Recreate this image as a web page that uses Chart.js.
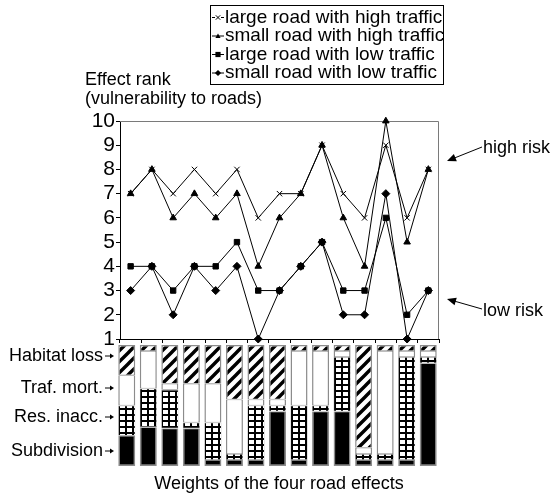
<!DOCTYPE html>
<html>
<head>
<meta charset="utf-8">
<script src="https://cdn.jsdelivr.net/npm/chart.js@4.4.1/dist/chart.umd.min.js"></script>
<style>
  html, body { margin: 0; padding: 0; background: #fff; }
  #wrap { position: relative; width: 555px; height: 496px; }
  #wrap canvas { position: absolute; left: 0; top: 0; }
</style>
</head>
<body>
<div id="wrap">
  <canvas id="lines" width="555" height="496"></canvas>
  <canvas id="bars" width="555" height="496"></canvas>
</div>
<script>
// Fifteen road-effect weighting scenarios
const categories = ['1', '2', '3', '4', '5', '6', '7', '8', '9', '10', '11', '12', '13', '14', '15'];
const rankTicks = [1, 2, 3, 4, 5, 6, 7, 8, 9, 10];

// Effect rank per scenario for each road type
const largeHighTraffic = [7, 8, 7, 8, 7, 8, 6, 7, 7, 9, 7, 6, 9, 6, 8];
const smallHighTraffic = [7, 8, 6, 7, 6, 7, 4, 6, 7, 9, 6, 4, 10, 5, 8];
const largeLowTraffic  = [4, 4, 3, 4, 4, 5, 3, 3, 4, 5, 3, 3, 6, 2, 3];
const smallLowTraffic  = [3, 4, 2, 4, 3, 4, 1, 3, 4, 5, 2, 2, 7, 1, 3];

// Weights (%) of the four road effects in each scenario
const habitatLoss  = [25, 5, 32, 32, 32, 45, 45, 45, 5, 5, 5, 85, 5, 5, 5];
const trafficMort  = [25, 31, 5, 32, 32, 45, 5, 5, 45, 45, 5, 5, 85, 5, 5];
const resInacc     = [25, 32, 32, 5, 31, 5, 45, 5, 45, 5, 45, 5, 5, 85, 5];
const subdivision  = [25, 32, 31, 31, 5, 5, 5, 45, 5, 45, 45, 5, 5, 5, 85];

const FONT = '"Liberation Sans", Arial, Helvetica, sans-serif';

// ---------- fill patterns ----------
function hatchTile() {
  const c = document.createElement('canvas');
  c.width = 11; c.height = 11;
  const g = c.getContext('2d');
  g.fillStyle = '#fff'; g.fillRect(0, 0, 11, 11);
  g.strokeStyle = '#000'; g.lineWidth = 3.4;
  g.beginPath();
  g.moveTo(-2, 13); g.lineTo(13, -2);
  g.moveTo(-5.5, 5.5); g.lineTo(5.5, -5.5);
  g.moveTo(5.5, 16.5); g.lineTo(16.5, 5.5);
  g.stroke();
  return c;
}
function gridTile() {
  const c = document.createElement('canvas');
  c.width = 7; c.height = 6;
  const g = c.getContext('2d');
  g.fillStyle = '#000'; g.fillRect(0, 0, 7, 6);
  g.fillStyle = '#fff'; g.fillRect(2, 2, 5, 4);
  return c;
}
const hatchCanvas = hatchTile();
const gridCanvas = gridTile();
const BAR_W = 17;

function patternFor(tile, shift) {
  return function (ctx) {
    const chart = ctx.chart;
    const p = chart.ctx.createPattern(tile, 'repeat');
    if (ctx.dataIndex !== undefined && chart.scales && chart.scales.x) {
      const left = Math.round(chart.scales.x.getPixelForValue(ctx.dataIndex) - BAR_W / 2) + shift;
      if (p.setTransform) p.setTransform(new DOMMatrix([1, 0, 0, 1, left, 0]));
    }
    return p;
  };
}

// ---------- drawing helpers ----------
function txt(ctx, s, x, y, size, align) {
  ctx.font = size + 'px ' + FONT;
  ctx.textAlign = align || 'left';
  ctx.textBaseline = 'alphabetic';
  ctx.fillStyle = '#000';
  ctx.fillText(s, x, y);
}
function arrow(ctx, x1, y1, x2, y2, len, half) {
  const a = Math.atan2(y2 - y1, x2 - x1);
  ctx.strokeStyle = '#000'; ctx.fillStyle = '#000'; ctx.lineWidth = 1;
  ctx.beginPath(); ctx.moveTo(x1, y1);
  ctx.lineTo(x2 - Math.cos(a) * len * 0.6, y2 - Math.sin(a) * len * 0.6); ctx.stroke();
  ctx.beginPath();
  ctx.moveTo(x2, y2);
  ctx.lineTo(x2 - Math.cos(a) * len - Math.sin(a) * half, y2 - Math.sin(a) * len + Math.cos(a) * half);
  ctx.lineTo(x2 - Math.cos(a) * len + Math.sin(a) * half, y2 - Math.sin(a) * len - Math.cos(a) * half);
  ctx.closePath(); ctx.fill();
}
function marker(ctx, style, x, y, r) {
  ctx.fillStyle = '#000'; ctx.strokeStyle = '#000'; ctx.lineWidth = 1;
  ctx.beginPath();
  if (style === 'crossRot') {
    ctx.moveTo(x - r, y - r); ctx.lineTo(x + r, y + r);
    ctx.moveTo(x - r, y + r); ctx.lineTo(x + r, y - r); ctx.stroke();
  } else if (style === 'triangle') {
    ctx.moveTo(x, y - r); ctx.lineTo(x + r, y + r * 0.8); ctx.lineTo(x - r, y + r * 0.8);
    ctx.closePath(); ctx.fill();
  } else if (style === 'rect') {
    ctx.rect(x - r, y - r, 2 * r, 2 * r); ctx.fill();
  } else {
    ctx.moveTo(x, y - r * 1.2); ctx.lineTo(x + r * 1.2, y); ctx.lineTo(x, y + r * 1.2); ctx.lineTo(x - r * 1.2, y);
    ctx.closePath(); ctx.fill();
  }
}

// Frame, legend box and annotations around the rank plot
const decorations = {
  id: 'decorations',
  beforeDatasetsDraw(chart) {
    const { ctx, chartArea: a } = chart;
    ctx.save();
    ctx.strokeStyle = '#7a7a7a'; ctx.lineWidth = 1;
    ctx.beginPath();
    ctx.moveTo(a.left, a.top + 0.5); ctx.lineTo(a.right - 0.5, a.top + 0.5); ctx.lineTo(a.right - 0.5, a.bottom);
    ctx.stroke();
    ctx.restore();
  },
  afterDraw(chart) {
    const ctx = chart.ctx;
    ctx.save();
    // axis title
    txt(ctx, 'Effect rank', 85, 85, 18);
    txt(ctx, '(vulnerability to roads)', 85, 104, 18);

    // legend
    ctx.strokeStyle = '#000'; ctx.lineWidth = 1;
    ctx.strokeRect(210.5, 5.5, 233, 79);
    chart.data.datasets.forEach((ds, i) => {
      const base = 22.5 + i * 18.5;
      const my = base - 5;
      ctx.strokeStyle = '#000'; ctx.lineWidth = 1;
      ctx.beginPath(); ctx.moveTo(212, my); ctx.lineTo(224, my); ctx.stroke();
      if (ds.pointStyle === 'crossRot') {
        ctx.fillStyle = '#fff'; ctx.fillRect(215, my - 1, 6, 2);
      }
      marker(ctx, ds.pointStyle, 218, my, ds.pointStyle === 'crossRot' ? 2.2 : 2.6);
      txt(ctx, ds.label, 225, base, 19);
    });

    // risk annotations
    txt(ctx, 'high risk', 483, 153, 18);
    arrow(ctx, 482, 147, 447, 161, 9, 4);
    txt(ctx, 'low risk', 483, 316, 18);
    arrow(ctx, 482, 309, 447, 299, 9, 4);

    // effect labels beside the weight bars
    const effects = [['Habitat loss', 361], ['Traf. mort.', 393], ['Res. inacc.', 422], ['Subdivision', 456]];
    effects.forEach(([label, y]) => {
      txt(ctx, label, 103, y, 18, 'right');
      arrow(ctx, 105, y - 5, 114, y - 5, 4, 2.5);
    });

    txt(ctx, 'Weights of the four road effects', 279, 489, 18, 'center');
    ctx.restore();
  }
};

const lineDefaults = { borderColor: '#000', backgroundColor: '#000', borderWidth: 1,
  pointBorderColor: '#000', pointBackgroundColor: '#000', pointBorderWidth: 1,
  tension: 0, clip: false };

new Chart(document.getElementById('lines'), {
  type: 'line',
  data: {
    labels: categories,
    datasets: [
      Object.assign({ label: 'large road with high traffic', data: largeHighTraffic, pointStyle: 'crossRot', pointRadius: 3.8 }, lineDefaults),
      Object.assign({ label: 'small road with high traffic', data: smallHighTraffic, pointStyle: 'triangle', pointRadius: 3.8 }, lineDefaults),
      Object.assign({ label: 'large road with low traffic', data: largeLowTraffic, pointStyle: 'rect', pointRadius: 3.8 }, lineDefaults),
      Object.assign({ label: 'small road with low traffic', data: smallLowTraffic, pointStyle: 'rectRot', pointRadius: 4 }, lineDefaults)
    ]
  },
  options: {
    responsive: false, animation: false, events: [], devicePixelRatio: 1,
    layout: { padding: { left: 0, top: 121, right: 116, bottom: 153 } },
    plugins: { legend: { display: false }, tooltip: { enabled: false } },
    scales: {
      x: {
        offset: true,
        grid: { offset: true, drawOnChartArea: false, tickLength: 4, color: '#000', lineWidth: 1 },
        border: { color: '#000', width: 1 },
        ticks: { display: false },
        afterFit(s) { s.height = 4; }
      },
      y: {
        min: 1, max: 10,
        afterBuildTicks(s) { s.ticks = rankTicks.map(v => ({ value: v })); },
        grid: { drawOnChartArea: false, tickLength: 4, color: '#000', lineWidth: 1 },
        border: { color: '#000', width: 1 },
        ticks: { color: '#000', padding: 1, autoSkip: false, font: { family: FONT, size: 21 } },
        afterFit(s) { s.width = 120; }
      }
    }
  },
  plugins: [decorations]
});

const GRAY = '#8c8c8c';
new Chart(document.getElementById('bars'), {
  type: 'bar',
  data: {
    labels: categories,
    datasets: [
      { label: 'Subdivision', data: subdivision, backgroundColor: '#000',
        borderWidth: { left: 1.5, right: 1.5, top: 0.75, bottom: 1.5 } },
      { label: 'Res. inacc.', data: resInacc, backgroundColor: patternFor(gridCanvas, 0),
        borderWidth: { left: 0.5, right: 0.5, top: 0.75, bottom: 0.75 } },
      { label: 'Traf. mort.', data: trafficMort, backgroundColor: '#fff',
        borderWidth: { left: 1.5, right: 1.5, top: 0.75, bottom: 0.75 } },
      { label: 'Habitat loss', data: habitatLoss, backgroundColor: patternFor(hatchCanvas, 0),
        borderWidth: { left: 1.5, right: 1.5, top: 1.5, bottom: 0.75 } }
    ]
  },
  options: {
    responsive: false, animation: false, events: [], devicePixelRatio: 1,
    layout: { padding: { left: 116, right: 116, top: 345, bottom: 30 } },
    plugins: { legend: { display: false }, tooltip: { enabled: false } },
    datasets: { bar: { barThickness: BAR_W, borderColor: GRAY, borderSkipped: false, inflateAmount: 0 } },
    scales: {
      x: { display: false, stacked: true },
      y: { display: false, stacked: true, min: 0, max: 100 }
    }
  }
});
</script>
</body>
</html>
